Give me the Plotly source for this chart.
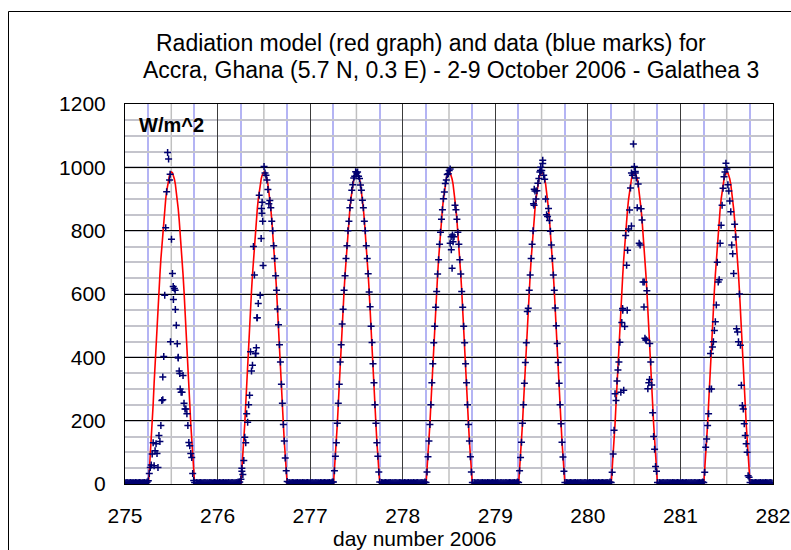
import plotly.graph_objects as go

# ---------------- data ----------------
days = [275, 276, 277, 278, 279, 280, 281]
x_ticks = [275, 276, 277, 278, 279, 280, 281, 282]
y_ticks = [0, 200, 400, 600, 800, 1000, 1200]

# sample times (hours of day), 15-minute steps from 06:03 to 18:03
sample_hours = [6.05 + 0.25 * k for k in range(49)]

# model (red graph), W/m^2 at the sample times
model_profile = [0, 40, 85, 134, 190, 252, 318, 382, 444, 501, 556, 610, 661, 710, 755,
                 797, 834, 869, 899, 925, 947, 963, 975, 983, 985, 983, 975, 963, 947,
                 925, 899, 869, 834, 797, 755, 710, 661, 610, 556, 501, 444, 382, 318,
                 252, 190, 134, 85, 40, 0]

# measured data (blue marks), W/m^2 at the sample times
obs_275 = [10, 33, 52, 60, 95, 130, 58, 105, 127, 96, 52, 153, 134, 185, 264, 338, 403,
           596, 809, 923, 1047, 1026, 960, 449, 773, 665, 583, 617, 551, 501, 443, 400,
           357, 300, 290, 290, 343, 255, 237, 237, 222, 185, 131, 121, 96, 84, 33, 11, 5]
obs_276 = [15, 40, 30, 74, 148, 130, 222, 195, 250, 280, 418, 357, 375, 750, 660, 412,
           430, 525, 570, 912, 596, 775, 890, 690, 1003, 982, 975, 960, 930, 885, 895,
           872, 830, 800, 752, 712, 658, 612, 553, 503, 440, 385, 315, 255, 188, 136, 82,
           42, 8]
obs_277 = [6, 42, 88, 130, 192, 255, 315, 385, 440, 505, 552, 612, 658, 712, 752, 800,
           830, 872, 896, 928, 945, 966, 972, 986, 982, 985, 972, 965, 944, 928, 896, 872,
           830, 800, 752, 712, 664, 606, 560, 498, 447, 380, 320, 250, 192, 130, 88, 38, 6]
obs_278 = [5, 38, 86, 136, 188, 250, 320, 380, 446, 498, 558, 608, 663, 708, 757, 795,
           836, 866, 901, 922, 949, 960, 977, 980, 990, 760, 781, 681, 765, 781, 880, 866,
           836, 795, 757, 708, 663, 608, 558, 498, 446, 380, 320, 250, 188, 136, 86, 38, 5]
obs_279 = [5, 42, 84, 132, 192, 250, 318, 384, 446, 545, 555, 612, 660, 712, 757, 800,
           880, 925, 900, 926, 950, 965, 985, 1000, 990, 1022, 975, 962, 900, 850, 845,
           870, 832, 798, 755, 712, 660, 612, 556, 500, 444, 384, 318, 250, 190, 132, 85,
           40, 5]
obs_280 = [5, 37, 95, 170, 285, 264, 325, 360, 385, 448, 290, 510, 549, 296, 497, 785,
           691, 738, 805, 865, 935, 982, 975, 1074, 1003, 987, 966, 872, 947, 760, 755,
           869, 834, 638, 559, 460, 455, 610, 301, 320, 444, 385, 313, 225, 150, 110, 55,
           40, 5]
obs_281 = [5, 37, 116, 142, 185, 222, 300, 412, 300, 433, 449, 485, 512, 565, 700, 638,
           645, 760, 817, 880, 934, 970, 985, 1013, 995, 945, 925, 894, 860, 755, 727,
           665, 820, 780, 490, 480, 449, 600, 438, 312, 248, 237, 190, 153, 127, 100, 26,
           21, 5]
obs_by_day = [obs_275, obs_276, obs_277, obs_278, obs_279, obs_280, obs_281]

# additional scattered marks: day, hour, value
extra_day = [275, 275, 275, 275, 275, 275, 276, 276, 276, 276, 276, 276,
             278, 278, 278, 279, 279, 279, 279, 280, 280, 280, 280, 280, 280, 280]
extra_hour = [11.7, 12.5, 13.0, 13.8, 14.2, 9.8, 11.4, 11.5, 11.7, 10.2, 9.9, 6.3,
              12.3, 12.9, 12.6, 11.7, 12.3, 10.1, 9.9, 12.3, 11.3, 9.0, 10.2, 14.6, 15.1, 16.0]
extra_value = [978, 624, 612, 398, 349, 266, 870, 855, 830, 525, 412, 50,
               995, 786, 740, 990, 1012, 931, 885, 982, 815, 554, 549, 638, 455, 330]

# night-time readings (hour of day, W/m^2), same small offset every night
night_hours = [h / 4 for h in range(0, 24)] + [h / 4 for h in range(74, 96)]
night_values = [4, 3, 5, 4, 3, 4, 5, 3, 4, 4, 3, 5, 4, 3, 4, 5, 4, 3, 4, 4, 5, 3, 4, 6,
                5, 4, 3, 4, 5, 4, 3, 4, 4, 5, 3, 4, 4, 3, 5, 4, 4, 3, 4, 5, 4, 3]

# ---------------- build traces ----------------
model_x, model_y = [275], [0]
obs_x, obs_y = [], []
for d, obs in zip(days, obs_by_day):
    for h, m, o in zip(sample_hours, model_profile, obs):
        model_x.append(d + h / 24)
        model_y.append(m)
        obs_x.append(d + h / 24)
        obs_y.append(o)
    for h, v in zip(night_hours, night_values):
        obs_x.append(d + h / 24)
        obs_y.append(v)
model_x.append(282)
model_y.append(0)
for d, h, v in zip(extra_day, extra_hour, extra_value):
    obs_x.append(d + h / 24)
    obs_y.append(v)

FONT = "Liberation Sans, Arial, sans-serif"
fig = go.Figure()
fig.add_trace(go.Scatter(x=model_x, y=model_y, mode="lines",
                         line=dict(color="#ff0000", width=1.6), hoverinfo="skip"))
fig.add_trace(go.Scatter(x=obs_x, y=obs_y, mode="markers",
                         marker=dict(symbol="cross-thin", size=5,
                                     line=dict(width=1.5, color="#000070"))))

# page body margin is removed below, so figure pixels = screen pixels
W, H = 791, 550
L, R, T, B = 125, 773, 104, 484          # plot area on screen
def px(sx):
    return (sx - L) / (R - L)
def py(sy):
    return (B - sy) / (B - T)

shapes = []
for d in days:
    shapes.append(dict(type="line", xref="x", yref="paper", x0=d + 0.5, x1=d + 0.5,
                       y0=0, y1=1, line=dict(color="#c0c0c0", width=1.5), layer="between"))
shapes.append(dict(type="line", xref="paper", yref="y", x0=0, x1=1, y0=1000, y1=1000,
                   line=dict(color="#8c8c8c", width=2), layer="between"))
# outer frame of the picture
shapes.append(dict(type="line", xref="paper", yref="paper", x0=px(8.5), x1=px(800),
                   y0=py(11.5), y1=py(11.5), line=dict(color="black", width=1)))
shapes.append(dict(type="line", xref="paper", yref="paper", x0=px(8.5), x1=px(8.5),
                   y0=py(11.5), y1=py(560), line=dict(color="black", width=1)))

annotations = [
    dict(text="Radiation model (red graph) and data (blue marks) for",
         x=px(431), y=py(43), xref="paper", yref="paper", xanchor="center",
         yanchor="middle", showarrow=False, font=dict(family=FONT, size=23, color="black")),
    dict(text="Accra, Ghana (5.7 N, 0.3 E) - 2-9 October 2006 - Galathea 3",
         x=px(451), y=py(70), xref="paper", yref="paper", xanchor="center",
         yanchor="middle", showarrow=False, font=dict(family=FONT, size=23, color="black")),
    dict(text="<b>W/m^2</b>", x=px(137), y=py(125), xref="paper", yref="paper",
         xanchor="left", yanchor="middle", showarrow=False,
         font=dict(family=FONT, size=20, color="black")),
    dict(text="day number 2006", x=px(414), y=py(538), xref="paper", yref="paper",
         xanchor="center", yanchor="middle", showarrow=False,
         font=dict(family=FONT, size=21, color="black")),
]

quarter_vals = []
for d in days:
    quarter_vals += [d + 0.25, d + 0.75]

fig.update_layout(
    width=W, height=H,
    margin=dict(l=L, r=W - R, t=T, b=H - B, autoexpand=False),
    paper_bgcolor="white", plot_bgcolor="white",
    showlegend=False,
    shapes=shapes, annotations=annotations,
    xaxis=dict(range=[275, 282], tickvals=x_ticks, ticktext=[str(v) for v in x_ticks],
               showgrid=True, gridcolor="#3c3c3c", gridwidth=1, zeroline=False,
               showline=True, linecolor="black", linewidth=1, mirror=True, ticks="",
               ticklabelstandoff=13, automargin=False,
               tickfont=dict(family=FONT, size=21, color="black"),
               minor=dict(tickvals=quarter_vals, showgrid=True, gridcolor="#b4b4f4",
                          gridwidth=1.5)),
    yaxis=dict(range=[0, 1200], tickvals=y_ticks, ticktext=[str(v) for v in y_ticks],
               showgrid=True, gridcolor="black", gridwidth=1, zeroline=False,
               showline=True, linecolor="black", linewidth=1, mirror=True, ticks="",
               ticklabelstandoff=14, automargin=False,
               tickfont=dict(family=FONT, size=21, color="black"),
               minor=dict(dtick=50, showgrid=True, gridcolor="#c4c4cc", gridwidth=1.5)),
)

fig.write_html("out.html",
               config={"displayModeBar": False},
               post_script="document.body.style.margin='0';"
                           "document.body.style.overflow='hidden';")
